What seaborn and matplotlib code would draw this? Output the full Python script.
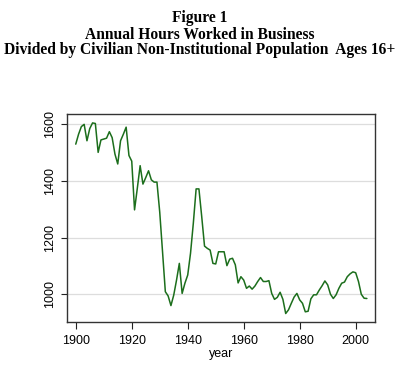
import numpy as np
import pandas as pd
import matplotlib
matplotlib.use("Agg")
import matplotlib.pyplot as plt
import seaborn as sns

# annual hours per person, 1900-2004
years = list(range(1900, 2005))
hours = [
    1530, 1565, 1592, 1600, 1542, 1585, 1605, 1603, 1501, 1545,   # 1900s
    1548, 1551, 1574, 1553, 1495, 1460, 1542, 1565, 1590, 1490,   # 1910s
    1470, 1298, 1375, 1454, 1389, 1412, 1436, 1404, 1396, 1396,   # 1920s
    1290, 1150, 1009, 994, 960, 997, 1050, 1109, 1003, 1039,      # 1930s
    1068, 1145, 1251, 1372, 1372, 1274, 1170, 1162, 1156, 1109,   # 1940s
    1107, 1150, 1150, 1150, 1101, 1124, 1127, 1104, 1040, 1062,   # 1950s
    1050, 1021, 1029, 1018, 1029, 1045, 1059, 1045, 1045, 1048,   # 1960s
    1003, 982, 989, 1007, 982, 932, 945, 968, 990, 1003,          # 1970s
    980, 968, 938, 940, 984, 998, 998, 1015, 1030, 1047,          # 1980s
    1033, 1000, 985, 998, 1021, 1039, 1043, 1062, 1072, 1079,     # 1990s
    1076, 1045, 1000, 986, 985,                                   # 2000s
]
title_lines = [
    "Figure 1",
    "Annual Hours Worked in Business",
    "Divided by Civilian Non-Institutional Population  Ages 16+",
]
xticks = [1900, 1920, 1940, 1960, 1980, 2000]
yticks = [1000, 1200, 1400, 1600]

df = pd.DataFrame({"year": years, "hours": hours})

sns.set_style("white")
plt.rcParams["font.family"] = ["Liberation Sans", "DejaVu Sans"]
plt.rcParams["text.color"] = "black"
plt.rcParams["axes.labelcolor"] = "black"
plt.rcParams["xtick.labelcolor"] = "black"
plt.rcParams["ytick.labelcolor"] = "black"

fig = plt.figure(figsize=(4.0, 3.67), dpi=100)
ax = fig.add_axes([0.167, 0.1226, 0.7705, 0.5664])

sns.lineplot(data=df, x="year", y="hours", ax=ax, color="#1c6e1c", lw=1.1)

ax.set_xlim(1896.8, 2006.9)
ax.set_ylim(902, 1636)
ax.set_xticks(xticks)
ax.set_yticks(yticks)
ax.set_yticklabels([str(v) for v in yticks], rotation=90, va="center")
ax.tick_params(axis="both", labelsize=9, width=0.8, color="#222222",
               direction="out", bottom=True, left=True)
ax.tick_params(axis="x", length=5, pad=4)
ax.tick_params(axis="y", length=4, pad=4)
ax.set_xlabel("year", fontsize=9, labelpad=1)
ax.set_ylabel("")
ax.yaxis.grid(True, color="#dddddd", lw=0.9)
ax.xaxis.grid(False)
for sp in ax.spines.values():
    sp.set_color("#333333")
    sp.set_linewidth(1.0)

for txt, ypos in zip(title_lines, [0.952, 0.905, 0.864]):
    fig.text(0.5, ypos, txt, ha="center", va="center", fontsize=11.2,
             fontweight="bold", color="black",
             family=["Liberation Serif", "DejaVu Serif"])

fig.savefig("out.png", dpi=100)
